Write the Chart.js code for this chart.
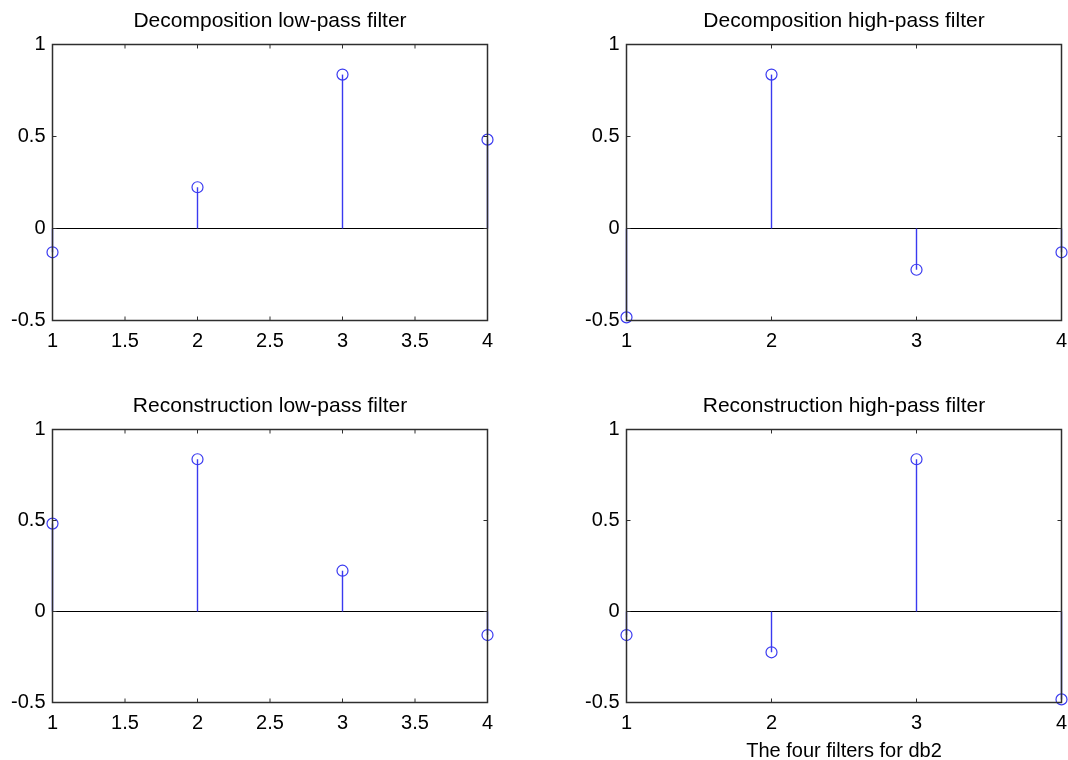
<!DOCTYPE html>
<html>
<head>
<meta charset="utf-8">
<script src="https://cdn.jsdelivr.net/npm/chart.js@4/dist/chart.umd.min.js"></script>
<style>
  html, body { margin: 0; padding: 0; background: #fff; }
  body { width: 1068px; height: 760px; overflow: hidden; position: relative; }
  canvas { position: absolute; }
  #c1 { left: 0; top: 0; }
  #c2 { left: 574px; top: 0; }
  #c3 { left: 0; top: 385px; }
  #c4 { left: 574px; top: 385px; }
</style>
</head>
<body>
<canvas id="c1" width="534" height="380"></canvas>
<canvas id="c2" width="534" height="380"></canvas>
<canvas id="c3" width="534" height="375"></canvas>
<canvas id="c4" width="534" height="378"></canvas>
<script>
// db2 filter coefficients
const taps = [1, 2, 3, 4];
const decLow  = [-0.1294, 0.2241, 0.8365, 0.4830];
const decHigh = [-0.4830, 0.8365, -0.2241, -0.1294];
const recLow  = [0.4830, 0.8365, 0.2241, -0.1294];
const recHigh = [-0.1294, -0.2241, 0.8365, -0.4830];
const yTicks  = [-0.5, 0, 0.5, 1];
const xLabel  = 'The four filters for db2';

const STEM = '#3a3af0';
const AXIS = '#2e2e2e';
const TICK = 4;
const FONT = "'Liberation Sans', Arial, sans-serif";

// matlab-ish tick text: 1, 1.5, 2 ... (no trailing .0)
const plainNum = v => String(Math.round(v * 100) / 100);

/* box + inward ticks on all four sides, like a matlab axes */
const boxPlugin = {
    id: 'box',
    afterDatasetsDraw(chart) {
        const { ctx, chartArea: a, scales: { x, y } } = chart;
        ctx.save();
        ctx.strokeStyle = AXIS;
        ctx.lineWidth = 1.5;
        ctx.strokeRect(a.left, a.top, a.right - a.left, a.bottom - a.top);
        ctx.lineWidth = 1;
        ctx.beginPath();
        x.ticks.forEach(t => {
            const px = x.getPixelForValue(t.value);
            ctx.moveTo(px, a.bottom); ctx.lineTo(px, a.bottom - TICK);
            ctx.moveTo(px, a.top);    ctx.lineTo(px, a.top + TICK);
        });
        y.ticks.forEach(t => {
            const py = y.getPixelForValue(t.value);
            ctx.moveTo(a.left, py);  ctx.lineTo(a.left + TICK, py);
            ctx.moveTo(a.right, py); ctx.lineTo(a.right - TICK, py);
        });
        ctx.stroke();
        ctx.restore();
    }
};

function makeStemChart(id, title, values, opts) {
    const stems = taps.map((t, i) => ({
        type: 'line', showLine: true,
        data: [{ x: t, y: 0 }, { x: t, y: values[i] }],
        borderColor: STEM, borderWidth: 1.4, pointRadius: 0, clip: false
    }));
    const markers = {
        type: 'scatter',
        data: taps.map((t, i) => ({ x: t, y: values[i] })),
        pointStyle: 'circle', pointRadius: 5.5,
        borderColor: STEM, backgroundColor: 'rgba(0,0,0,0)', pointBorderWidth: 1.2,
        clip: false
    };
    const baseline = {
        type: 'line', showLine: true,
        data: [{ x: taps[0], y: 0 }, { x: taps[taps.length - 1], y: 0 }],
        borderColor: '#000', borderWidth: 1, pointRadius: 0
    };

    return new Chart(document.getElementById(id), {
        type: 'scatter',
        data: { datasets: [markers, ...stems, baseline] },
        options: {
            responsive: false,
            devicePixelRatio: 1,
            animation: false,
            events: [],
            layout: { padding: { left: 0, right: 46.5, top: 0, bottom: 0 } },
            plugins: {
                legend: { display: false },
                tooltip: { enabled: false },
                title: {
                    display: true, text: title, color: '#000', fullSize: false,
                    font: { family: FONT, size: 21, weight: 'normal', lineHeight: 1.2 },
                    padding: { top: 8.5, bottom: 10.8 }
                }
            },
            scales: {
                x: {
                    type: 'linear', min: taps[0], max: taps[taps.length - 1],
                    grid: { display: false, drawTicks: false },
                    border: { display: false },
                    ticks: { stepSize: opts.xStep, color: '#000', padding: 9, maxRotation: 0,
                             callback: plainNum, font: { family: FONT, size: 20 } },
                    title: opts.xTitle ? { display: true, text: opts.xTitle, color: '#000',
                             font: { family: FONT, size: 20 }, padding: 0 } : { display: false },
                    afterFit: s => { s.height = opts.xHeight; }
                },
                y: {
                    type: 'linear', min: yTicks[0], max: yTicks[yTicks.length - 1],
                    grid: { display: false, drawTicks: false },
                    border: { display: false },
                    ticks: { stepSize: 0.5, color: '#000', padding: 7,
                             callback: plainNum, font: { family: FONT, size: 20 } },
                    afterFit: s => { s.width = 52.5; }
                }
            }
        },
        plugins: [boxPlugin]
    });
}

makeStemChart('c1', 'Decomposition low-pass filter', decLow, { xStep: 0.5, xHeight: 59.5 });
makeStemChart('c2', 'Decomposition high-pass filter', decHigh, { xStep: 1, xHeight: 59.5 });
makeStemChart('c3', 'Reconstruction low-pass filter', recLow, { xStep: 0.5, xHeight: 57.5 });
makeStemChart('c4', 'Reconstruction high-pass filter', recHigh, { xStep: 1, xHeight: 60.5, xTitle: xLabel });
</script>
</body>
</html>
